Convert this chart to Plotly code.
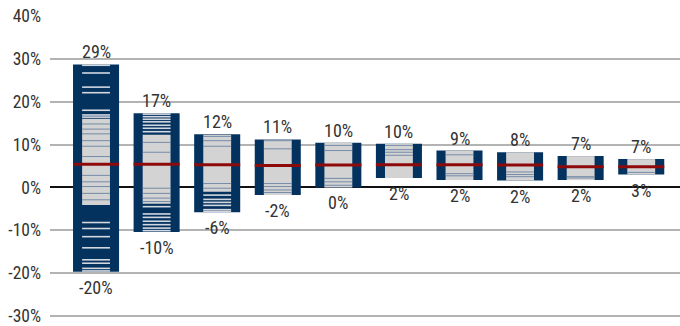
import plotly.graph_objects as go

# ---- data (percent) ----
categories = list(range(10))
maxs    = [28.7, 17.3, 12.4, 11.2, 10.4, 10.2, 8.6, 8.2, 7.3, 6.6]
mins    = [-19.7, -10.4, -5.8, -1.8, 0.0, 2.2, 1.7, 1.6, 1.7, 3.0]
medians = [5.4, 5.4, 5.3, 5.1, 5.2, 5.3, 5.3, 5.2, 4.8, 4.8]
band_lo = [-4.1, -3.8, -1.0, -1.8, 0.0, 2.2, 1.7, 1.6, 1.7, 3.0]
band_hi = [16.0, 12.3, 12.3, 11.1, 10.4, 10.2, 8.6, 8.2, 7.3, 6.6]
light_lines = [
    [28.5, 26.7, 23.4, 22.1, 18.0, 16.9, 16.4, -8.2, -9.6, -11.5, -14.1, -16.9, -17.7, -18.9, -19.5],
    [17.1, 16.5, 15.9, 15.3, 14.5, 13.8, 13.0, -4.5, -6.2, -7.0, -7.9, -8.7, -9.5, -10.1],
    [-1.8, -2.8, -3.5, -4.2, -5.2, -5.6],
    [], [], [], [], [], [], [],
]
dark_lines = [
    [14.8, 13.6, 12.5, 10.9, 9.6, 7.2, 2.8, 1.3, 0.2, -1.4, -2.9],
    [10.5, 8.2, -0.2, -1.4, -2.5, -3.3],
    [11.9, 10.9, 9.6, 0.9, -0.2],
    [10.9, 9.0, 0.9, 0.2, -0.6, -1.2],
    [9.8, 8.6, 2.1, 1.3, 0.5],
    [9.8, 8.8, 8.2, 7.5],
    [7.6, 3.2, 2.7],
    [3.6, 3.0, 2.5],
    [2.5, 2.2],
    [3.5],
]
y_ticks = [-30, -20, -10, 0, 10, 20, 30, 40]

NAVY = "#04325f"
BAND = "#d3d3d3"
LIGHT = "#d3d8e0"
DARK = "#5f7a9e"
RED = "#8e0a0a"
FONT = "Roboto Condensed, Roboto, sans-serif"
BW = 0.76
IW = 0.46

fig = go.Figure()
fig.add_trace(go.Bar(x=categories, y=[a - b for a, b in zip(maxs, mins)], base=mins,
                     width=BW, marker=dict(color=NAVY, line=dict(width=0)), hoverinfo="skip"))
fig.add_trace(go.Bar(x=categories, y=[a - b for a, b in zip(band_hi, band_lo)], base=band_lo,
                     width=IW, marker=dict(color=BAND, line=dict(width=0)), hoverinfo="skip"))

def segs(values_per_cat, half):
    xs, ys = [], []
    for c, vals in zip(categories, values_per_cat):
        for v in vals:
            xs += [c - half, c + half, None]
            ys += [v, v, None]
    return xs, ys

lx, ly = segs(light_lines, IW / 2)
fig.add_trace(go.Scatter(x=lx, y=ly, mode="lines", line=dict(color=LIGHT, width=1.6), hoverinfo="skip"))
dx, dy = segs(dark_lines, IW / 2)
fig.add_trace(go.Scatter(x=dx, y=dy, mode="lines", line=dict(color=DARK, width=1), opacity=0.8, hoverinfo="skip"))
mx, my = segs([[m] for m in medians], BW / 2)
fig.add_trace(go.Scatter(x=mx, y=my, mode="lines", line=dict(color=RED, width=3), hoverinfo="skip"))

for c, hi, lo in zip(categories, maxs, mins):
    fig.add_annotation(x=c, y=hi, text=f"{hi:.0f}%", showarrow=False, yanchor="bottom", yshift=0,
                       font=dict(family=FONT, size=18, color="#333333"))
    fig.add_annotation(x=c, y=lo, text=f"{abs(lo) if lo == 0 else lo:.0f}%", showarrow=False, yanchor="top", yshift=-3,
                       font=dict(family=FONT, size=18, color="#333333"))

fig.update_layout(
    width=680, height=326, margin=dict(l=50, r=0, t=16, b=6),
    paper_bgcolor="white", plot_bgcolor="white", showlegend=False, barmode="overlay",
    xaxis=dict(range=[-0.76, 9.64], showticklabels=False, showgrid=False, zeroline=False, showline=False),
    yaxis=dict(range=[-30.25, 40], tickvals=y_ticks, ticktext=[f"{t}%" for t in y_ticks],
               showgrid=True, gridcolor="#b3b3b3", gridwidth=1.5,
               zeroline=True, zerolinecolor="#111111", zerolinewidth=2,
               ticklabelstandoff=8, ticklabeloverflow="allow",
               tickfont=dict(family=FONT, size=17.5, color="#333333"), showline=False),
)
fig.write_html("out.html")
